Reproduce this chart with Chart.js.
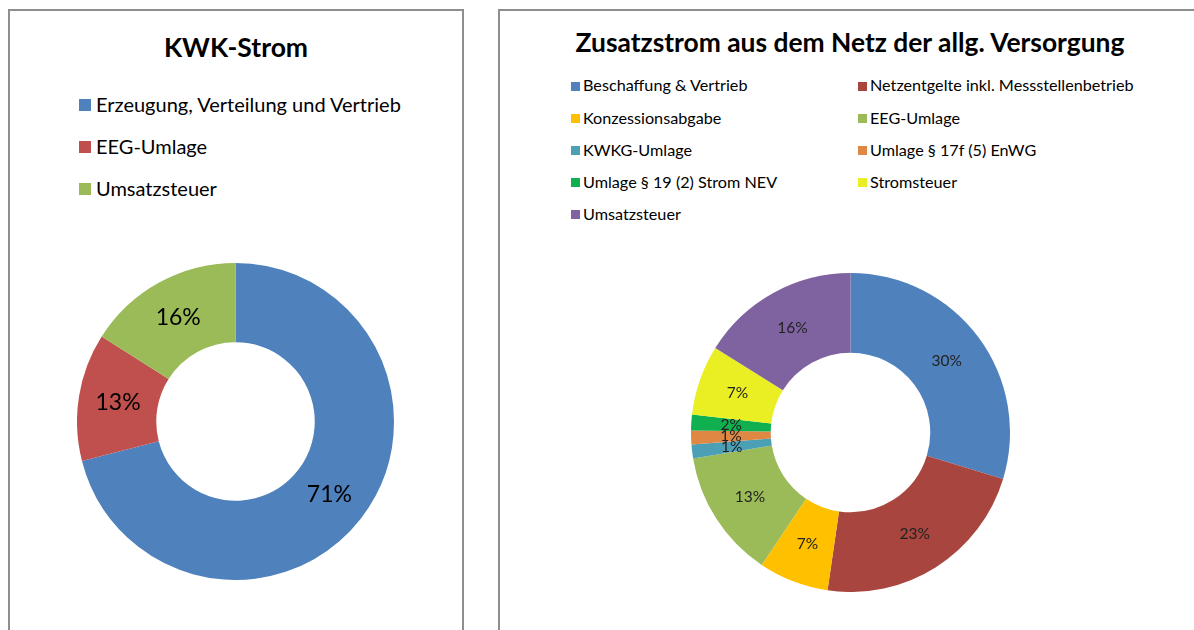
<!DOCTYPE html>
<html>
<head>
<meta charset="utf-8">
<script src="https://cdn.jsdelivr.net/npm/chart.js@4.4.1/dist/chart.umd.min.js"></script>
<style>
  html, body { margin: 0; padding: 0; background: #fff; width: 1194px; height: 630px; overflow: hidden; }
  body { position: relative; font-family: Lato, "Open Sans", sans-serif; color: #000; }
  .panel { position: absolute; border: 2px solid #8e8e8e; border-bottom: none; background: #fff; }
  #p1 { left: 8px; top: 9px; width: 452px; height: 700px; }
  #p2 { left: 498px; top: 9px; width: 800px; height: 700px; }
  .title { position: absolute; font-weight: bold; white-space: nowrap; text-align: center; }
  .lg { position: absolute; white-space: nowrap; }
  .sw { position: absolute; }
  canvas { position: absolute; }
</style>
</head>
<body>
<div class="panel" id="p1"></div>
<div class="panel" id="p2"></div>
<div class="title" id="t1" style="left:0;width:472px;top:34px;font-size:26.5px;line-height:26.5px;">KWK-Strom</div>
<div class="title" id="t2" style="left:500px;width:700px;top:29px;font-size:26.4px;line-height:26.4px;">Zusatzstrom aus dem Netz der allg. Versorgung</div>
<div id="lg1"></div>
<div id="lg2"></div>
<canvas id="c1" width="317" height="317" style="left:77px;top:263px;"></canvas>
<canvas id="c2" width="319" height="319" style="left:691px;top:273px;"></canvas>
<script>
// ---- Data: KWK-Strom ----
const kwkCategories = ["Erzeugung, Verteilung und Vertrieb", "EEG-Umlage", "Umsatzsteuer"];
const kwkValues = [71, 13, 16];
const kwkColors = ["#4F81BD", "#C0504D", "#9BBB59"];

// ---- Data: Zusatzstrom aus dem Netz der allg. Versorgung ----
const zusatzCategories = [
  "Beschaffung & Vertrieb",
  "Netzentgelte inkl. Messstellenbetrieb",
  "Konzessionsabgabe",
  "EEG-Umlage",
  "KWKG-Umlage",
  "Umlage § 17f (5) EnWG",
  "Umlage § 19 (2) Strom NEV",
  "Stromsteuer",
  "Umsatzsteuer"
];
const zusatzValues = [29.7, 22.6, 7.1, 13.0, 1.4, 1.4, 1.6, 7.1, 16.1];
const zusatzColors = ["#4F81BD", "#A9453F", "#FFC000", "#9BBB59", "#4BA0B6", "#DE8844", "#10B050", "#EAEF24", "#7F63A1"];

// ---- Legends (HTML text built from the arrays) ----
function buildLegend(containerId, cats, colors, cfg) {
  const box = document.getElementById(containerId);
  cats.forEach((c, i) => {
    const col = i % cfg.cols;
    const row = Math.floor(i / cfg.cols);
    const cy = cfg.y0 + row * cfg.dy;
    const sx = cfg.x0 + col * cfg.dx;
    const sw = document.createElement('div');
    sw.className = 'sw';
    sw.style.cssText = `left:${sx}px;top:${cy - cfg.sq / 2}px;width:${cfg.sq}px;height:${cfg.sq}px;background:${colors[i]};`;
    box.appendChild(sw);
    const t = document.createElement('div');
    t.className = 'lg';
    t.textContent = c;
    t.style.cssText = `left:${sx + cfg.gap}px;top:${cy - cfg.fs * 0.53}px;font-size:${cfg.fs}px;line-height:${cfg.fs}px;`;
    box.appendChild(t);
  });
}
buildLegend('lg1', kwkCategories, kwkColors, {cols: 1, x0: 79, y0: 105, dy: 42, dx: 0, sq: 12, gap: 17, fs: 20});
buildLegend('lg2', zusatzCategories, zusatzColors, {cols: 2, x0: 571, y0: 86, dy: 32.1, dx: 287, sq: 9, gap: 12, fs: 16.2});

// ---- Percentage label plugin ----
const pctLabels = {
  id: 'pctLabels',
  afterDatasetsDraw(chart, args, opts) {
    const ctx = chart.ctx;
    const ds = chart.data.datasets[0];
    const total = ds.data.reduce((a, b) => a + b, 0);
    const meta = chart.getDatasetMeta(0);
    ctx.save();
    ctx.font = `${opts.size}px Lato, "Open Sans", sans-serif`;
    ctx.fillStyle = opts.color;
    ctx.textAlign = 'center';
    ctx.textBaseline = 'middle';
    meta.data.forEach((arc, i) => {
      const p = arc.tooltipPosition(false);
      ctx.fillText(Math.round(ds.data[i] / total * 100) + '%', p.x, p.y);
    });
    ctx.restore();
  }
};

function makeDonut(id, cats, vals, colors, labelSize, labelColor) {
  return new Chart(document.getElementById(id), {
    type: 'doughnut',
    data: {
      labels: cats,
      datasets: [{ data: vals, backgroundColor: colors, borderWidth: 0, hoverOffset: 0, offset: 0 }]
    },
    options: {
      responsive: false,
      maintainAspectRatio: false,
      animation: false,
      cutout: '50%',
      layout: { padding: 0 },
      events: [],
      plugins: {
        legend: { display: false },
        tooltip: { enabled: false },
        title: { display: false },
        pctLabels: { size: labelSize, color: labelColor }
      }
    },
    plugins: [pctLabels]
  });
}
makeDonut('c1', kwkCategories, kwkValues, kwkColors, 23, '#000');
makeDonut('c2', zusatzCategories, zusatzValues, zusatzColors, 15.5, '#222');
</script>
</body>
</html>
